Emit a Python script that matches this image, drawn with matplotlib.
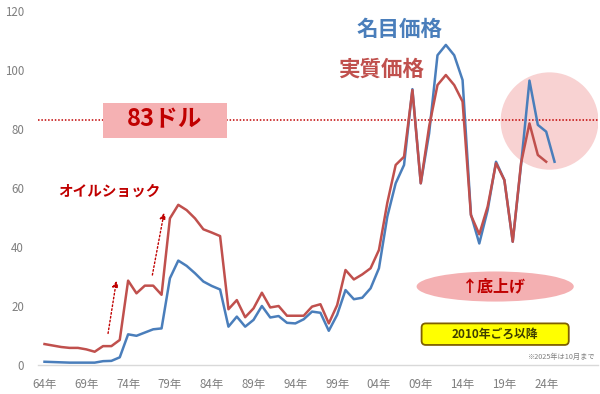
import matplotlib
matplotlib.use("Agg")
import matplotlib.pyplot as plt
from matplotlib.patches import Rectangle, Ellipse, FancyBboxPatch

plt.rcParams['font.family'] = ['Noto Sans CJK JP', 'DejaVu Sans']

# ---- data ----
years_nominal = list(range(1964, 2026))
nominal = [1.1, 1.0, 0.9, 0.8, 0.8, 0.8, 0.8, 1.3, 1.4, 2.6,
           10.4, 9.9, 11.0, 12.1, 12.4, 29.4, 35.4, 33.6, 31.1, 28.3,
           26.8, 25.6, 13.0, 16.4, 13.0, 15.3, 20.0, 16.1, 16.6, 14.3,
           14.1, 15.5, 18.1, 17.7, 11.6, 17.0, 25.4, 22.3, 22.8, 26.0,
           32.8, 50.3, 61.6, 67.8, 93.5, 61.6, 78.5, 105.0, 108.5, 105.0,
           96.6, 51.0, 41.2, 52.5, 68.9, 62.7, 41.8, 68.0, 96.4, 81.4,
           79.1, 68.9]
years_real = list(range(1964, 2025))
real = [7.1, 6.6, 6.1, 5.8, 5.8, 5.3, 4.5, 6.4, 6.4, 8.5,
        28.6, 24.3, 26.9, 26.9, 23.8, 49.7, 54.3, 52.5, 49.7, 46.0,
        44.9, 43.7, 18.9, 22.0, 16.2, 19.2, 24.5, 19.5, 20.0, 16.7,
        16.7, 16.7, 19.8, 20.6, 14.1, 20.3, 32.2, 29.0, 30.7, 32.8,
        39.0, 55.0, 67.8, 70.6, 93.2, 61.6, 80.8, 94.9, 98.3, 94.9,
        89.3, 50.8, 44.3, 53.7, 68.4, 62.7, 41.8, 68.5, 81.9, 71.2,
        68.9]
tick_years = [1964, 1969, 1974, 1979, 1984, 1989, 1994, 1999, 2004, 2009, 2014, 2019, 2024]
tick_labels = ['64年', '69年', '74年', '79年', '84年', '89年', '94年', '99年',
               '04年', '09年', '14年', '19年', '24年']
y_ticks = [0, 20, 40, 60, 80, 100, 120]
avg_level = 83

BLUE = '#4a7ebb'
RED = '#c0504d'
DARKRED = '#c00000'

fig = plt.figure(figsize=(6.0, 3.94), dpi=100)
ax = fig.add_axes([0.0633, 0.0736, 0.9334, 0.8985])
ax.set_xlim(1963.22, 2030.2)
ax.set_ylim(0, 120)

# pink circle (behind)
ax.add_patch(Ellipse((2024.4, 82.7), 11.7, 33.0, facecolor='#f8d2d2', edgecolor='none', zorder=1))
# 83 dotted line
ax.axhline(avg_level, color=DARKRED, linestyle=(0, (1, 1.2)), linewidth=1.1, zorder=2)
# 83 box
ax.add_patch(Rectangle((1971.0, 76.9), 14.8, 11.9, facecolor='#f5b1b3', edgecolor='none', zorder=3))
ax.text(1978.4, 83.3, f'{avg_level}ドル', color=DARKRED, fontsize=17, fontweight='bold',
        ha='center', va='center', zorder=6)

# series
ax.plot(years_nominal, nominal, color=BLUE, linewidth=1.8, zorder=4, solid_joinstyle='round')
ax.plot(years_real, real, color=RED, linewidth=1.8, zorder=5, solid_joinstyle='round')

# labels
ax.text(2006.5, 113.9, '名目価格', color=BLUE, fontsize=15.5, fontweight='bold',
        ha='center', va='center', zorder=6)
ax.text(2004.3, 100.3, '実質価格', color=RED, fontsize=15.5, fontweight='bold',
        ha='center', va='center', zorder=6)
ax.text(1971.7, 59.0, 'オイルショック', color=DARKRED, fontsize=10.5, fontweight='bold',
        ha='center', va='center', zorder=6)

# dotted arrows
for (x0, y0, x1, y1) in [(1971.6, 10.7, 1972.6, 28.5), (1976.9, 30.5, 1978.3, 51.6)]:
    ax.annotate('', xy=(x1, y1), xytext=(x0, y0),
                arrowprops=dict(arrowstyle='-|>,head_length=0.35,head_width=0.18',
                                color=DARKRED, linestyle=(0, (1.2, 1.6)), linewidth=1.0,
                                shrinkA=0, shrinkB=0), zorder=6)

# 底上げ ellipse
ax.add_patch(Ellipse((2017.9, 26.6), 18.8, 10.2, facecolor='#f4b0b2', edgecolor='none', zorder=3))
ax.text(2017.7, 26.8, '↑底上げ', color=DARKRED, fontsize=11.5, fontweight='bold',
        ha='center', va='center', zorder=6)

# yellow box
ax.add_patch(FancyBboxPatch((2009.1, 6.8), 17.6, 7.3,
                            boxstyle='round,pad=0,rounding_size=0.5', mutation_aspect=2.83,
                            facecolor='#ffff00', edgecolor='#7f6000', linewidth=1.3, zorder=6))
ax.text(2017.9, 10.5, '2010年ごろ以降', color='#3f3f00', fontsize=8.5, fontweight='bold',
        ha='center', va='center', zorder=7)
ax.text(2029.9, 2.8, '※2025年は10月まで', color='#808080', fontsize=5.2,
        ha='right', va='center', zorder=7)

# axes styling
for s in ['top', 'right', 'left']:
    ax.spines[s].set_visible(False)
ax.spines['bottom'].set_color('#d9d9d9')
ax.spines['bottom'].set_linewidth(1.0)
ax.set_xticks(tick_years)
ax.set_xticklabels(tick_labels)
ax.set_yticks(y_ticks)
ax.tick_params(axis='both', length=0, labelsize=8.3, labelcolor='#7f7f7f')
ax.tick_params(axis='x', pad=9)
ax.tick_params(axis='y', pad=10)

fig.savefig('out.png', dpi=100)
